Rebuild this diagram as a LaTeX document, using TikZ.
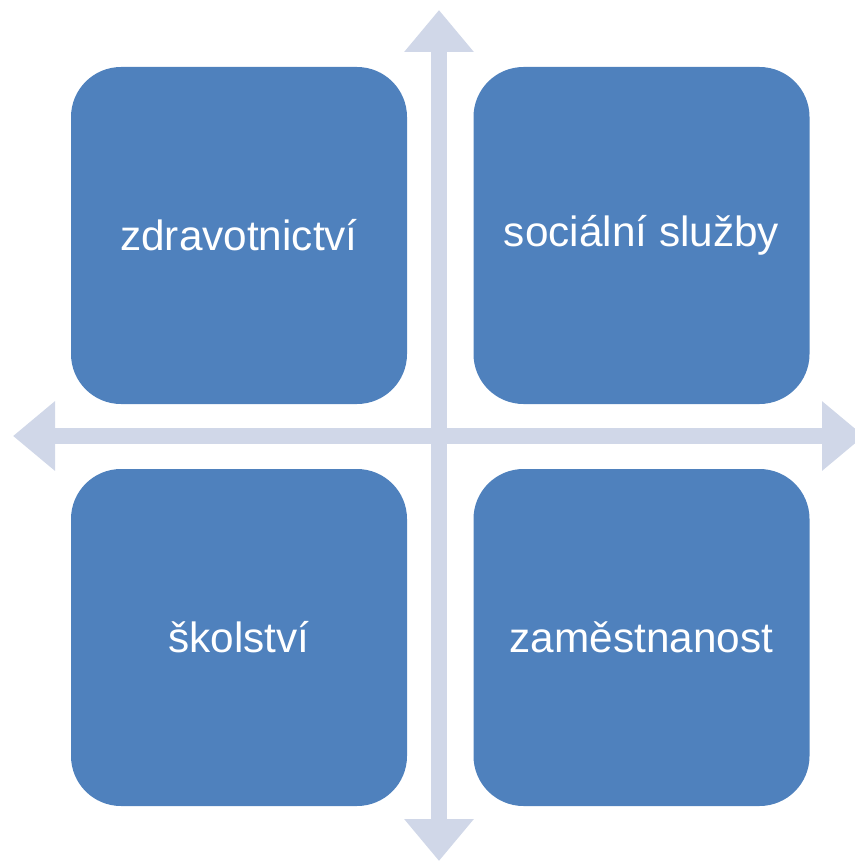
\documentclass[tikz,border=0pt]{standalone}
\usepackage{fontspec}
\setmainfont{Liberation Sans}
\usetikzlibrary{arrows.meta}
\definecolor{boxblue}{HTML}{4F81BD}
\definecolor{axisgray}{HTML}{D0D7E8}
\begin{document}
\begin{tikzpicture}[x=1pt,y=-1pt,
  quad/.style={draw=none, fill=boxblue, rounded corners=50pt, minimum width=336pt, minimum height=337pt, inner sep=0pt, text=white, font=\fontsize{42.3}{50}\selectfont},
  axis/.style={draw=axisgray, line width=16pt, {Triangle[width=67pt,length=42pt]}-{Triangle[width=67pt,length=42pt]}}]
\useasboundingbox (0,0) rectangle (854,861);
\coordinate (top) at (439,10);
\coordinate (bottom) at (439,861);
\coordinate (left) at (13,436);
\coordinate (right) at (864,436);
\draw[axis] (top) -- (bottom);
\draw[axis] (left) -- (right);
\node[quad] (zdr) at (239,235.5) {zdravotnictví};
\node[quad] (soc) at (641.5,235.5) {sociální služby};
\node[quad] (sko) at (239,637.5) {školství};
\node[quad] (zam) at (641.5,637.5) {zaměstnanost};
\end{tikzpicture}
\end{document}
